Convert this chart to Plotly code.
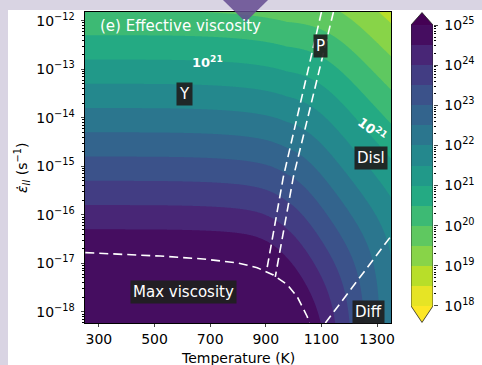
import numpy as np
import plotly.graph_objects as go
from plotly.colors import sample_colorscale

# ---------------- axes / ticks ----------------
T_range = [250, 1350]
log_edot_range = [-18.23, -11.82]
x_ticks = [300, 500, 700, 900, 1100, 1300]
y_ticks = [-18, -17, -16, -15, -14, -13, -12]
cbar_ticks = [18, 19, 20, 21, 22, 23, 24, 25]
cbar_range = [17.576, 25.324]

# ---------------- contour levels ----------------
level_start, level_end, level_step = 18.0, 25.0, 0.5

# ---------------- rheology parameters (log10 forms) ----------------
yield_log_stress = 8.2      # log10(eta * edot) in yield regime
yield_softening = 0.15
yield_softening_cap = 0.2
disl_n = 3.5
disl_log_pref = 4.58
disl_k = 7900.0             # Q/(n R ln10)
diff_log_pref = 10.73
diff_k = 15460.0
eta_max_log = 25.0

# ---------------- regime boundaries ----------------
yp_T = [1100, 963, 902]
yp_le = [-11.82, -15.22, -17.18]
pd_T = [1143, 999, 934]
pd_le = [-11.82, -15.22, -17.28]
maxv_T = [251, 520, 675, 798, 869, 927, 977, 1013, 1049, 1056]
maxv_le = [-16.78, -16.85, -16.91, -16.99, -17.09, -17.24, -17.44, -17.69, -18.10, -18.23]
diff_T = [1114, 1350]
diff_le = [-18.23, -16.44]

# ---------------- field ----------------
T = np.linspace(T_range[0], T_range[1], 441)
le = np.linspace(log_edot_range[0], log_edot_range[1], 321)
TT, LE = np.meshgrid(T, le)
soft = np.minimum(yield_softening * ((TT - 250) / 675.0) ** 4, yield_softening_cap)
log_eta_Y = yield_log_stress - soft - LE
log_eta_D = disl_log_pref - (1 - 1 / disl_n) * LE + disl_k / TT
log_eta_F = diff_log_pref + diff_k / TT
inv = 10.0 ** (-log_eta_Y) + 10.0 ** (-log_eta_D) + 10.0 ** (-log_eta_F)
Z = np.minimum(-np.log10(inv), eta_max_log - 0.001)

# ---------------- colours ----------------
viridis11 = ["#440154", "#482475", "#414487", "#355f8d", "#2a788e", "#21918c",
             "#22a884", "#44bf70", "#7ad151", "#bddf26", "#fde725"]
vscale = [[i / 10, c] for i, c in enumerate(viridis11)]
n_bands = int(round((level_end - level_start) / level_step))
band_colors = sample_colorscale(vscale, [1 - (k + 0.5) / n_bands for k in range(n_bands)])
all_colors = ["#fde725"] + band_colors + ["#440154"]
N = len(all_colors)
stepped = []
for k, c in enumerate(all_colors):
    stepped.append([max(0.0, (k - 0.5) / (N - 1)), c])
    stepped.append([min(1.0, (k + 0.5) / (N - 1)), c])

levels = [level_start + level_step * i for i in range(n_bands + 1)]
mids = [l + level_step / 2 for l in levels[:-1]]

FONT = "DejaVu Sans"
fig = go.Figure()

fig.add_trace(go.Contour(
    x=T, y=le, z=Z, colorscale=stepped, showscale=False,
    contours=dict(start=level_start, end=level_end, size=level_step,
                  coloring="fill", showlines=False),
    line=dict(width=0), hoverinfo="skip"))

dash_line = dict(color="white", width=1.6, dash="9px,5px")
for xs, ys in [(yp_T, yp_le), (pd_T, pd_le), (maxv_T, maxv_le), (diff_T, diff_le)]:
    fig.add_trace(go.Scatter(x=xs, y=ys, mode="lines", line=dash_line,
                             hoverinfo="skip", showlegend=False))

# ---------------- colorbar ----------------
fig.add_trace(go.Heatmap(x=[0, 1], y=levels, z=[[m] for m in mids],
                         colorscale=stepped, zmin=level_start - level_step / 2,
                         zmax=level_end + level_step / 2, showscale=False,
                         xaxis="x2", yaxis="y2", hoverinfo="skip"))
fig.add_trace(go.Scatter(x=[0, 1, 0.5, 0], y=[level_end, level_end, 25.31, level_end],
                         fill="toself", fillcolor="#440154", mode="lines",
                         line=dict(width=0), xaxis="x2", yaxis="y2",
                         hoverinfo="skip", showlegend=False))
fig.add_trace(go.Scatter(x=[0, 1, 0.5, 0], y=[level_start, level_start, 17.59, level_start],
                         fill="toself", fillcolor="#fde725", mode="lines",
                         line=dict(width=0), xaxis="x2", yaxis="y2",
                         hoverinfo="skip", showlegend=False))
fig.add_trace(go.Scatter(x=[0, 0.5, 1, 1, 0.5, 0, 0],
                         y=[level_start, 17.59, level_start, level_end, 25.31, level_end, level_start],
                         mode="lines", line=dict(color="#222", width=0.8),
                         xaxis="x2", yaxis="y2", hoverinfo="skip", showlegend=False))

def sup(n):
    s = str(n).replace("-", "\u2212")
    return "10<sup>" + s + "</sup>"

y_minor = [np.log10(k) + n for n in range(-19, -11) for k in range(2, 10)]
y_minor = [v for v in y_minor if log_edot_range[0] <= v <= log_edot_range[1]]
c_minor = [np.log10(k) + n for n in range(18, 25) for k in range(2, 10)]

W_total = 433 - 85
fig.update_layout(
    width=482, height=365,
    margin=dict(l=85, r=482 - 433, t=12, b=365 - 323, autoexpand=False),
    paper_bgcolor="white", plot_bgcolor="white",
    font=dict(family=FONT, size=14, color="black"),
    showlegend=False,
    xaxis=dict(domain=[0, 306 / W_total], range=T_range, tickvals=x_ticks,
               ticks="outside", ticklen=3.5, tickwidth=0.8, showline=True, mirror=True,
               linecolor="black", linewidth=0.8, showgrid=False, zeroline=False,
               anchor="y", automargin=False),
    yaxis=dict(domain=[0, 1], range=log_edot_range, tickvals=y_ticks,
               ticktext=[sup(v) for v in y_ticks], ticklabelstandoff=3,
               ticks="outside", ticklen=3.5, tickwidth=0.8, showline=True, mirror=True,
               linecolor="black", linewidth=0.8, showgrid=False, zeroline=False,
               minor=dict(tickvals=y_minor, ticks="outside", ticklen=2,
                          tickwidth=0.6, tickcolor="black", showgrid=False),
               anchor="x", automargin=False),
    xaxis2=dict(domain=[326 / W_total, 1], range=[0, 1], visible=False, anchor="y2",
                automargin=False),
    yaxis2=dict(domain=[0, 1], range=cbar_range, anchor="x2", side="right",
                tickvals=cbar_ticks, ticktext=[sup(v) for v in cbar_ticks],
                ticklabelstandoff=4, automargin=False,
                ticks="outside", ticklen=3.5, tickwidth=0.8, showline=False,
                showgrid=False, zeroline=False,
                minor=dict(tickvals=c_minor, ticks="outside", ticklen=2,
                           tickwidth=0.6, tickcolor="black", showgrid=False)),
)

def px_x(px):
    return (px - 85) / W_total

def px_y(py):
    return (323 - py) / 311

box = dict(bgcolor="rgba(32,32,32,0.92)", borderpad=2, xanchor="center", yanchor="middle",
           font=dict(family=FONT, size=15, color="white"), showarrow=False)
anns = [
    dict(x=606.8, y=-13.51, text="Y", **box),
    dict(x=1096, y=-12.52, text="P", **box),
    dict(x=1279.5, y=-14.83, text="Disl", **box),
    dict(x=603, y=-17.59, text="Max viscosity", **box),
    dict(x=1268.7, y=-18.0, text="Diff", **box),
    dict(x=297, y=-12.11, text="(e) Effective viscosity", xanchor="left", yanchor="middle",
         showarrow=False, font=dict(family=FONT, size=15, color="white")),
    dict(x=690, y=-12.85, text="<b>10<sup>21</sup></b>", showarrow=False,
         xanchor="center", yanchor="middle",
         font=dict(family=FONT, size=13, color="white")),
    dict(x=1283, y=-14.23, text="<b>10<sup>21</sup></b>", showarrow=False, textangle=37,
         xanchor="center", yanchor="middle",
         font=dict(family=FONT, size=13, color="white")),
    dict(xref="paper", yref="paper", x=px_x(237.5), y=px_y(358), text="Temperature (K)",
         xanchor="center", yanchor="middle",
         showarrow=False, font=dict(family=FONT, size=14, color="black")),
    dict(xref="paper", yref="paper", x=px_x(22), y=px_y(168),
         text="<i>\u03b5\u0307</i><sub><i>II</i></sub> (s<sup>\u22121</sup>)",
         xanchor="center", yanchor="middle",
         textangle=-90, showarrow=False, font=dict(family=FONT, size=14, color="black")),
]
fig.update_layout(annotations=anns)

lav = "#d9d4e3"
shapes = [
    dict(type="rect", xref="paper", yref="paper", x0=px_x(0), x1=px_x(482),
         y0=px_y(10), y1=px_y(0), fillcolor=lav, line=dict(width=0), layer="above"),
    dict(type="rect", xref="paper", yref="paper", x0=px_x(0), x1=px_x(8),
         y0=px_y(366), y1=px_y(0), fillcolor=lav, line=dict(width=0), layer="above"),
    dict(type="path", xref="paper", yref="paper",
         path=f"M {px_x(223)} {px_y(0)} L {px_x(268)} {px_y(0)} L {px_x(245.5)} {px_y(22)} Z",
         fillcolor="rgba(100,75,145,0.85)", line=dict(width=0), layer="above"),
]
fig.update_layout(shapes=shapes)

fig.write_html("out.html")
